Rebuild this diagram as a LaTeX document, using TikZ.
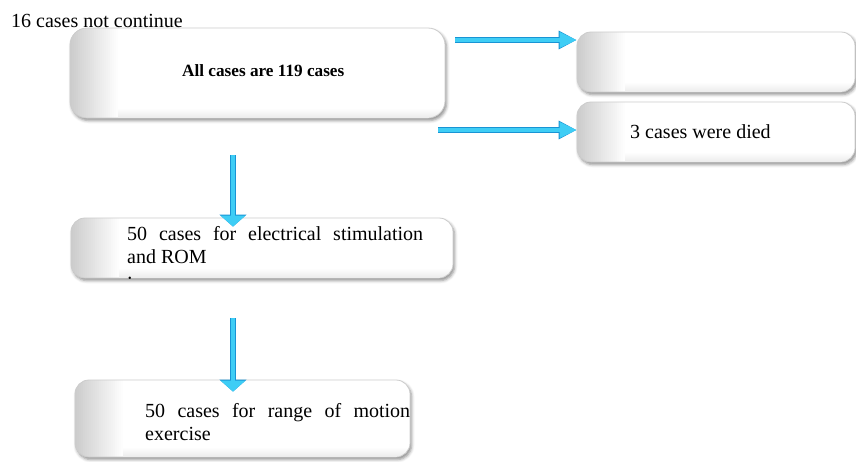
\documentclass[tikz,border=0pt]{standalone}
\usepackage{fontspec}
\setmainfont{Liberation Serif}
\usetikzlibrary{arrows.meta,shadows.blur,calc}

\definecolor{arrowfill}{RGB}{62,205,245}
\definecolor{arrowedge}{RGB}{24,148,212}

\tikzset{
  casebox/.style={
    draw=black!20, line width=0.8pt, fill=white, inner sep=0pt,
    rounded corners=#1,
    blur shadow={shadow xshift=1.5pt, shadow yshift=-2.5pt,
                 shadow blur radius=3pt, shadow opacity=45},
    path picture={
      % soft grey fade along the left side
      \foreach \i in {0,...,23}{
        \pgfmathsetmacro\op{0.2*(1-\i/24)}
        \fill[black, fill opacity=\op, sharp corners]
          ([xshift=2*\i pt]path picture bounding box.south west)
          rectangle ([xshift=2*\i pt+2pt]path picture bounding box.north west);
      }
      % faint darkening towards the bottom edge
      \foreach \j in {0,...,8}{
        \pgfmathsetmacro\op{0.008*\j}
        \fill[black, fill opacity=\op, sharp corners]
          ([xshift=48pt, yshift=10pt-\j pt]path picture bounding box.south west)
          rectangle ([yshift=9pt-\j pt]path picture bounding box.south east);
      }
    }},
  casebox/.default=14pt,
  txt/.style={inner sep=0pt, anchor=base west,
    font=\fontsize{20}{23}\selectfont},
  harrow/.style={
    -{Triangle[length=17pt,width=15pt]}, line width=3.6pt, draw=arrowfill,
    preaction={draw=arrowedge, line width=5.4pt,
               -{Triangle[length=18pt,width=17.5pt]}}},
  varrow/.style={
    -{Triangle[length=11pt,width=24pt]}, line width=4.4pt, draw=arrowfill,
    preaction={draw=arrowedge, line width=6.2pt,
               -{Triangle[length=12pt,width=26.5pt]}}},
}

\begin{document}
\begin{tikzpicture}[x=1pt,y=-1pt]
  \useasboundingbox (0,0) rectangle (856,461);

  % boxes
  \node[casebox=17pt, minimum width=375pt, minimum height=90pt] (A) at (257.5,73) {};
  \node[casebox, minimum width=278pt, minimum height=60pt] (B) at (716,62) {};
  \node[casebox, minimum width=278pt, minimum height=60pt] (C) at (716,132) {};
  \node[casebox, minimum width=382pt, minimum height=60pt] (D) at (262,248) {};
  \node[casebox, minimum width=335pt, minimum height=77pt] (E) at (242.5,418.5) {};

  % texts (multi-line nodes sit on the baseline of their last line)
  \node[txt] (lost) at (11,27) {16 cases not continue};
  \node[txt, font=\fontsize{17.2}{20}\selectfont\bfseries] (all) at (182,76) {All cases are 119 cases};
  \node[txt] (died) at (630,138) {3 cases were died};
  \begin{scope}
    \clip ([yshift=-1pt]D.south west) rectangle (D.north east);
    \node[txt, align=left] (estim) at (127,286)
      {\makebox[296pt][s]{50 cases for electrical stimulation}\\and ROM\\:};
  \end{scope}
  \node[txt, align=left] (rom) at (145,440)
    {\makebox[265pt][s]{50 cases for range of motion}\\exercise};

  % connectors
  \coordinate (s1) at (455,40);
  \coordinate (s2) at (438,130);
  \coordinate (s3) at (233,155);
  \coordinate (s4) at (233,318);
  \draw[harrow] (s1) -- (s1 -| B.west);
  \draw[harrow] (s2) -- (s2 -| C.west);
  \draw[varrow] (s3) -- ($(s3 |- D.north)+(0,9)$);
  \draw[varrow] (s4) -- ($(s4 |- E.north)+(0,12)$);
\end{tikzpicture}
\end{document}
